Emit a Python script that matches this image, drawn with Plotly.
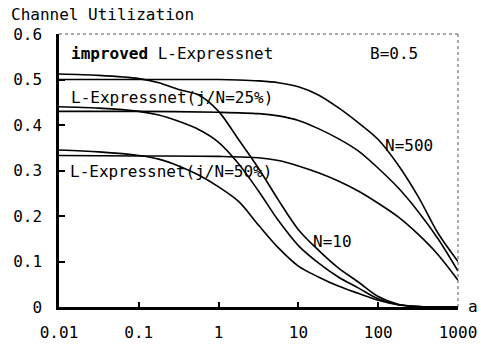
import plotly.graph_objects as go

# ---- data (a values, channel utilization) ----
imp10_a = [0.01, 0.0316, 0.1, 0.178, 0.316, 0.562, 1.0, 1.78, 3.16, 5.62, 10, 17.8, 31.6, 56.2, 100, 178, 316, 1000]
imp10_u = [0.512, 0.509, 0.502, 0.493, 0.478, 0.466, 0.43, 0.368, 0.305, 0.235, 0.17, 0.125, 0.086, 0.055, 0.023, 0.006, 0.001, 0.0]

p25_10_a = [0.01, 0.0316, 0.1, 0.178, 0.316, 0.562, 1.0, 1.78, 3.16, 5.62, 10, 17.8, 31.6, 56.2, 100, 178, 316, 1000]
p25_10_u = [0.44, 0.437, 0.43, 0.422, 0.408, 0.39, 0.362, 0.315, 0.255, 0.19, 0.135, 0.097, 0.066, 0.042, 0.018, 0.005, 0.001, 0.0]

p50_10_a = [0.01, 0.0316, 0.1, 0.178, 0.316, 0.562, 1.0, 1.78, 3.16, 5.62, 10, 17.8, 31.6, 56.2, 100, 178, 316, 1000]
p50_10_u = [0.345, 0.341, 0.333, 0.325, 0.31, 0.29, 0.264, 0.232, 0.18, 0.13, 0.09, 0.066, 0.046, 0.03, 0.015, 0.005, 0.001, 0.0]

imp500_a = [0.01, 0.1, 1.0, 1.78, 3.16, 5.62, 10, 17.8, 31.6, 56.2, 100, 178, 316, 562, 1000]
imp500_u = [0.50, 0.50, 0.50, 0.499, 0.497, 0.493, 0.484, 0.466, 0.438, 0.405, 0.368, 0.312, 0.243, 0.162, 0.10]

p25_500_a = [0.01, 0.1, 1.0, 3.16, 5.62, 10, 17.8, 31.6, 56.2, 100, 178, 316, 562, 1000]
p25_500_u = [0.43, 0.43, 0.428, 0.425, 0.42, 0.41, 0.392, 0.37, 0.343, 0.305, 0.262, 0.21, 0.15, 0.079]

p50_500_a = [0.01, 0.1, 1.0, 3.16, 5.62, 10, 17.8, 31.6, 56.2, 100, 178, 316, 562, 1000]
p50_500_u = [0.333, 0.332, 0.331, 0.328, 0.322, 0.31, 0.295, 0.277, 0.255, 0.228, 0.198, 0.16, 0.115, 0.059]

x_ticks = [0.01, 0.1, 1, 10, 100, 1000]
x_tick_labels = ["0.01", "0.1", "1", "10", "100", "1000"]
y_ticks = [0, 0.1, 0.2, 0.3, 0.4, 0.5, 0.6]
y_tick_labels = ["0", "0.1", "0.2", "0.3", "0.4", "0.5", "0.6"]

FONT = "DejaVu Sans Mono"
FS = 16

fig = go.Figure()
for xs, ys in [(imp10_a, imp10_u), (p25_10_a, p25_10_u), (p50_10_a, p50_10_u),
               (imp500_a, imp500_u), (p25_500_a, p25_500_u), (p50_500_a, p50_500_u)]:
    fig.add_trace(go.Scatter(x=xs, y=ys, mode="lines",
                             line=dict(color="black", width=1.6, shape="spline", smoothing=0.9),
                             showlegend=False, hoverinfo="skip"))

fig.update_layout(
    width=481, height=347,
    margin=dict(l=59, r=23, t=34, b=40),
    paper_bgcolor="white", plot_bgcolor="white",
    font=dict(family=FONT, size=FS, color="black"),
    xaxis=dict(type="log", range=[-2, 3], tickvals=x_ticks, ticktext=x_tick_labels,
               ticks="inside", ticklen=5, tickwidth=2, tickcolor="black",
               showline=True, linecolor="black", linewidth=2.5, showgrid=False, zeroline=False,
               ticklabelstandoff=9, tickfont=dict(family=FONT, size=FS), automargin=False),
    yaxis=dict(range=[0, 0.6], tickvals=y_ticks, ticktext=y_tick_labels,
               ticks="inside", ticklen=6, tickwidth=2, tickcolor="black",
               showline=True, linecolor="black", linewidth=2.5, showgrid=False, zeroline=False,
               ticklabelstandoff=11, tickfont=dict(family=FONT, size=FS), automargin=False),
    shapes=[dict(type="line", xref="paper", yref="paper", x0=0, x1=1, y0=1, y1=1,
                 line=dict(color="#555", width=1, dash="dot")),
            dict(type="line", xref="paper", yref="paper", x0=1, x1=1, y0=0, y1=1,
                 line=dict(color="#555", width=1, dash="dot"))],
)

ann = [
    dict(text="Channel Utilization", xref="paper", yref="paper", x=-0.125, y=1.07, xanchor="left", yanchor="middle"),
    dict(text="a", xref="paper", yref="paper", x=1.02, y=0.002, xanchor="left", yanchor="middle"),
    dict(text="<b>improved</b> L-Expressnet", xref="x", yref="y", x=-1.875, y=0.557, xanchor="left", yanchor="middle"),
    dict(text="B=0.5", xref="x", yref="y", x=1.87, y=0.557, xanchor="left", yanchor="middle"),
    dict(text="L-Expressnet(j/N=25%)", xref="x", yref="y", x=-1.875, y=0.461, xanchor="left", yanchor="middle"),
    dict(text="L-Expressnet(j/N=50%)", xref="x", yref="y", x=-1.885, y=0.298, xanchor="left", yanchor="middle"),
    dict(text="N=500", xref="x", yref="y", x=2.06, y=0.355, xanchor="left", yanchor="middle"),
    dict(text="N=10", xref="x", yref="y", x=1.157, y=0.143, xanchor="left", yanchor="middle"),
]
for a in ann:
    a.update(showarrow=False, font=dict(family=FONT, size=FS, color="black"))
fig.update_layout(annotations=ann)

fig.write_html("out.html")
